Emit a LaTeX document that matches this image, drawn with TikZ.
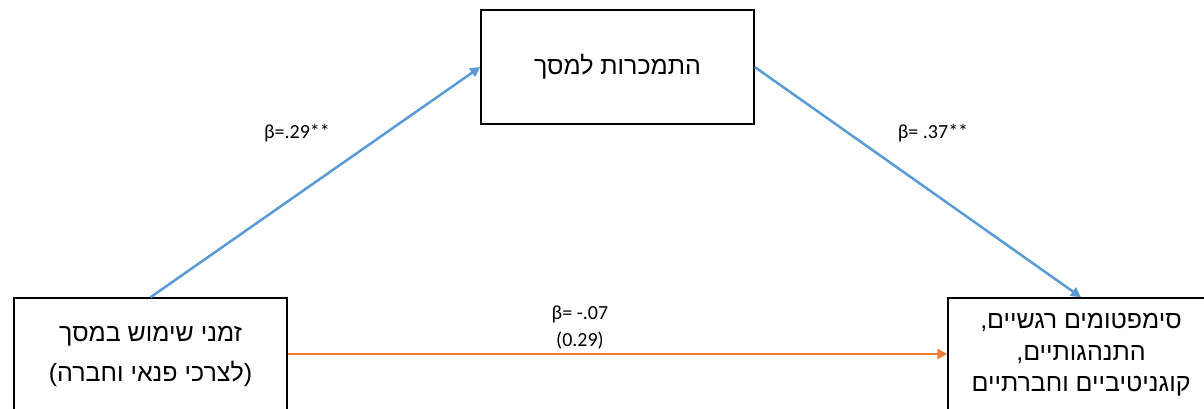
\documentclass[tikz,border=0pt]{standalone}
\usepackage{fontspec}
\setmainfont{Carlito}
\newfontfamily\hebfont[Script=Hebrew]{Liberation Sans}
\TeXXeTstate=1
\usetikzlibrary{arrows.meta}
\definecolor{pfadblau}{HTML}{5B9BD5}
\definecolor{pfadorange}{HTML}{ED7D31}

\begin{document}
\begin{tikzpicture} [ x=1pt, y=-1pt
								, kasten/.style={rectangle, draw, line width=1.5pt, minimum width=273pt, minimum height=114pt, align=center}
								, hebtext/.style={font=\hebfont\fontsize{25}{40}\selectfont}
								, pfad/.style ={draw, line width=2.5pt, arrows= -{Triangle[length=10pt, width=10pt]}}
								, koeff/.style={font=\fontsize{20}{27}\selectfont, align=center}
								]
	\useasboundingbox (0,0) rectangle (1204,409);

	\node (Sucht) 			[kasten, hebtext] at (617.5,67) {\beginR התמכרות למסך\endR};
	\node (Nutzung) 		[kasten, hebtext, minimum height=116pt] at (150.5,356) {\beginR זמני שימוש במסך\endR\\\beginR(לצרכי פנאי וחברה)\endR};
	\node (Symptome) 		[kasten, hebtext, font=\hebfont\fontsize{25}{31.5}\selectfont, minimum width=266pt] at (1081,355)
		{\beginR סימפטומים רגשיים,\endR\\\beginR התנהגותיים,\endR\\\beginR קוגניטיביים וחברתיים\endR};

	\draw [pfad, pfadblau] (Nutzung.north) -- (Sucht.west);
	\draw [pfad, pfadblau] (Sucht.east) -- (Symptome.north);
	\draw [pfad, pfadorange] (Nutzung.east |- 0,354) -- (Symptome.west |- 0,354);

	\node (a) [koeff] at (297,133) {β=.29**};
	\node (b) [koeff] at (933,133) {β= .37**};
	\node (c) [koeff] at (580,328) {β= -.07\\(0.29)};

\end{tikzpicture}
\end{document}
